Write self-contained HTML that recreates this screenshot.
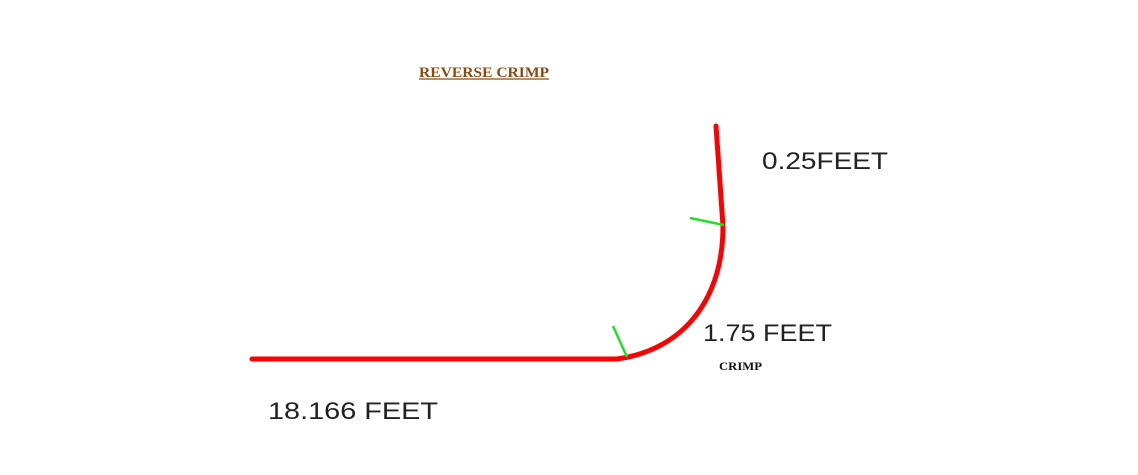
<!DOCTYPE html>
<html><head><meta charset="utf-8"><style>
html,body{margin:0;padding:0;background:#fff;width:1138px;height:475px;overflow:hidden}
svg{display:block}
.dim{font-family:"Liberation Sans",sans-serif;font-size:24px;fill:#222;font-weight:normal}
</style></head><body>
<svg width="1138" height="475" viewBox="0 0 1138 475">
<text x="419" y="77" font-family="'Liberation Serif',serif" font-weight="bold" font-size="15" fill="#8B4A14" textLength="130" lengthAdjust="spacingAndGlyphs">REVERSE  CRIMP</text>
<line x1="419" y1="79" x2="549" y2="79" stroke="#8B4A14" stroke-width="1.2"/>
<path d="M252,359 L617,359" stroke="#ff0000" stroke-width="5" stroke-linecap="round" fill="none"/>
<path d="M617,359 C683,350 723,300 723,226" stroke="#ff0000" stroke-width="5" stroke-linecap="round" fill="none"/>
<path d="M723,226 L716,126" stroke="#ff0000" stroke-width="5" stroke-linecap="round" fill="none"/>
<line x1="613" y1="326" x2="627" y2="357" stroke="#22e022" stroke-width="2.5"/>
<line x1="690" y1="218" x2="724" y2="225" stroke="#22e022" stroke-width="2.5"/>
<text class="dim" x="762" y="169" textLength="126" lengthAdjust="spacingAndGlyphs">0.25FEET</text>
<text class="dim" x="703" y="341" textLength="129" lengthAdjust="spacingAndGlyphs">1.75 FEET</text>
<text class="dim" x="268" y="419" textLength="170" lengthAdjust="spacingAndGlyphs">18.166 FEET</text>
<text x="719" y="370" font-family="'Liberation Serif',serif" font-weight="bold" font-size="12" fill="#111" textLength="43" lengthAdjust="spacingAndGlyphs">CRIMP</text>
</svg>
</body></html>
